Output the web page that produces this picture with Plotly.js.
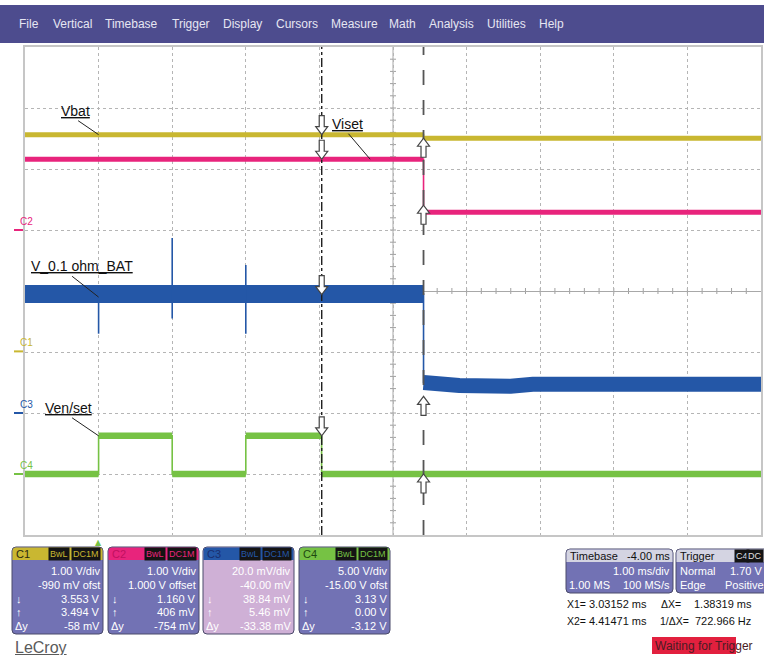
<!DOCTYPE html>
<html><head><meta charset="utf-8">
<script src="https://cdn.plot.ly/plotly-3.0.1.min.js"></script>
<style>html,body{margin:0;padding:0;background:#fff}#chart{width:764px;height:655px}</style>
</head><body><div id="chart"></div>
<script>
// ---------- data ----------
const timeRange = [-1, 9];              // ms, 1.00 ms/div
const cursorX1 = 3.03152, cursorX2 = 4.41471;

const chNames  = ['C1', 'C2', 'C3', 'C4'];
const chScale  = [1.00, 1.00, 20.0, 5.00];      // per div (V, V, mV, V)
const chOffset = [-0.99, 1.000, -40.0, -15.0];  // (V, V, mV, V)
const chColor  = ['#c9b731', '#e8247c', '#2457a7', '#76c244'];

// C1 Vbat (V)
const vbatT = [-1, 4.415, 4.415, 9];
const vbatV = [3.553, 3.553, 3.494, 3.494];
// C2 Viset (V)
const visetT = [-1, 4.415, 4.415, 9];
const visetV = [1.160, 1.160, 0.29, 0.29];
// C3 V_0.1 ohm_BAT (mV)
const vresT = [-1, 4.415, 4.415, 4.6, 4.9, 5.6, 5.9, 9];
const vresV = [39.0, 39.0, 10.0, 9.6, 9.0, 8.8, 9.4, 9.4];
const spikeT  = [0, 1, 2];
const spikeHi = [40, 57.4, 48.5];
const spikeLo = [26, 31, 26];
// C4 Ven/set (V)
const venT = [-1, 0, 0, 1, 1, 2, 2, 3.03, 3.03, 9];
const venV = [0, 0, 3.13, 3.13, 0, 0, 3.13, 3.13, 0, 0];

// cursor readings per channel
const measX1 = [3.553, 1.160, 38.84, 3.13];
const measX2 = [3.494, 0.406, 5.46, 0.00];

// trace labels
const labelText = ['Vbat', 'Viset', 'V_0.1 ohm_BAT', 'Ven/set'];
const labelT    = [0, 3.69, 0, 0];
const labelV    = [3.553, 1.160, 38.0, 3.13];
const labelCh   = [0, 1, 2, 3];

// panel texts
const menuItems = ['File','Vertical','Timebase','Trigger','Display','Cursors','Measure','Math','Analysis','Utilities','Help'];
const menuX     = [18, 52, 104, 171, 222, 275, 330, 388, 428, 486, 538];
const chScaleText  = ['1.00 V/div', '1.00 V/div', '20.0 mV/div', '5.00 V/div'];
const chOffsetText = ['-990 mV ofst', '1.000 V offset', '-40.00 mV', '-15.00 V ofst'];
const chX1Text = ['3.553 V', '1.160 V', '38.84 mV', '3.13 V'];
const chX2Text = ['3.494 V', '406 mV', '5.46 mV', '0.00 V'];
const chDyText = ['-58 mV', '-754 mV', '-33.38 mV', '-3.12 V'];

// ---------- geometry helpers ----------
const L = 25, R = 761, TOP = 47, BOT = 535;
const W = R - L, H = BOT - TOP;
const px = x => (x - L) / W;
const py = y => (BOT - y) / H;
const F = 'Liberation Sans, Arial, sans-serif';
const axName = i => 'y' + (i + 2);

// keep only the level (non-vertical) segments of a stepped trace, within [lo, hi]
function bands(t, v, lo, hi) {
  const x = [], y = [];
  for (let i = 0; i < t.length - 1; i++) {
    if (t[i] === t[i + 1]) { x.push(null); y.push(null); continue; }
    if (t[i] < lo || t[i + 1] > hi) continue;
    x.push(t[i], t[i + 1]); y.push(v[i], v[i + 1]);
  }
  return {x, y};
}

const traces = [];
function addLine(x, y, i, width) {
  traces.push({x: x, y: y, xaxis: 'x', yaxis: axName(i), type: 'scatter', mode: 'lines',
    line: {color: chColor[i], width: width}, hoverinfo: 'skip'});
}
function channel(i, t, v, thick) {
  addLine(t, v, i, 1.6);
  const b = bands(t, v, -1e9, 1e9);
  addLine(b.x, b.y, i, thick);
}
// C4
channel(3, venT, venV, 6.5);
// C3: thin edge, wider noise band before the step, narrower after
addLine(vresT, vresV, 2, 1.6);
{
  const b1 = bands(vresT, vresV, -1e9, cursorX2 + 0.01);
  addLine(b1.x, b1.y, 2, 18);
  const b2 = bands(vresT, vresV, cursorX2 - 0.01, 1e9);
  addLine(b2.x, b2.y, 2, 15);
  const sx = [], sy = [];
  spikeT.forEach((t, k) => { sx.push(t, t, null); sy.push(spikeHi[k], spikeLo[k], null); });
  addLine(sx, sy, 2, 1.6);
}
// C2, C1
channel(1, visetT, visetV, 5);
channel(0, vbatT, vbatV, 5);

// ---------- shapes & annotations ----------
const shapes = [], ann = [];

// center cross with minor ticks (graticule decoration)
shapes.push({type: 'line', xref: 'x', yref: 'paper', x0: 4, x1: 4, y0: 0, y1: 1, layer: 'below',
  line: {color: '#a8a8a8', width: 1}});
for (let k = 1; k < 50; k++) {
  const xv = timeRange[0] + k * 0.2;
  shapes.push({type: 'line', xref: 'x', yref: 'y', ysizemode: 'pixel', yanchor: 0,
    x0: xv, x1: xv, y0: -3, y1: 3, layer: 'below', line: {color: '#a0a0a0', width: 1}});
}
for (let k = 1; k < 40; k++) {
  const yv = -4 + k * 0.2;
  shapes.push({type: 'line', xref: 'x', yref: 'y', xsizemode: 'pixel', xanchor: 4,
    x0: -3, x1: 3, y0: yv, y1: yv, layer: 'below', line: {color: '#a0a0a0', width: 1}});
}

// cursors
shapes.push({type: 'line', xref: 'x', yref: 'paper', x0: cursorX1, x1: cursorX1, y0: 0, y1: 1,
  line: {color: '#1e1e1e', width: 1.4, dash: 'dashdot'}});
shapes.push({type: 'line', xref: 'x', yref: 'paper', x0: cursorX2, x1: cursorX2, y0: 0, y1: 1,
  line: {color: '#555', width: 1.8, dash: 'longdash'}});

// cursor arrows (pixel-sized outline arrows anchored on the readings)
const arrowDown = 'M0,0 L-6,8 L-2.5,8 L-2.5,19 L2.5,19 L2.5,8 L6,8 Z';
const arrowUp   = 'M0,0 L-6,-8 L-2.5,-8 L-2.5,-19 L2.5,-19 L2.5,-8 L6,-8 Z';
for (let i = 0; i < 4; i++) {
  shapes.push({type: 'path', xref: 'x', yref: axName(i), xsizemode: 'pixel', ysizemode: 'pixel',
    xanchor: cursorX1, yanchor: measX1[i], path: arrowDown, fillcolor: '#ffffff',
    line: {color: '#444', width: 1.2}});
  shapes.push({type: 'path', xref: 'x', yref: axName(i), xsizemode: 'pixel', ysizemode: 'pixel',
    xanchor: cursorX2, yanchor: measX2[i], path: arrowUp, fillcolor: '#ffffff',
    line: {color: '#444', width: 1.2}});
}

// channel ground markers
for (let i = 0; i < 4; i++) {
  shapes.push({type: 'line', xref: 'paper', yref: axName(i), x0: px(14), x1: px(23), y0: 0, y1: 0,
    line: {color: chColor[i], width: 2}});
  ann.push({xref: 'paper', yref: axName(i), x: px(18), y: 0, text: chNames[i], showarrow: false,
    yanchor: 'bottom', yshift: 1, font: {family: F, size: 10, color: chColor[i]}});
}

// trigger marker
ann.push({xref: 'x', yref: 'paper', x: 0, y: 0, text: '▲', showarrow: false, yanchor: 'top', yshift: -1,
  font: {family: 'DejaVu Sans', size: 8, color: chColor[3]}});

// trace labels with leader lines
const leadAx = [-22, -23, -28, -28], leadAy = [-15, -27, -22, -19];
const txtDx = [-23, -23, -17, -30], txtDy = [24, 35, 31, 28];
for (let k = 0; k < labelText.length; k++) {
  const yr = axName(labelCh[k]);
  ann.push({xref: 'x', yref: yr, x: labelT[k], y: labelV[k], text: '', showarrow: true, arrowhead: 0,
    arrowwidth: 1, arrowcolor: '#222', ax: leadAx[k], ay: leadAy[k], standoff: 0});
  ann.push({xref: 'x', yref: yr, x: labelT[k], y: labelV[k], text: labelText[k], showarrow: false,
    xshift: txtDx[k], yshift: txtDy[k], font: {family: F, size: 14, color: '#111', lineposition: 'under'}});
}

// ---------- chrome: menu + panels ----------
function T(x, y, text, o) {
  o = o || {};
  const a = {xref: 'paper', yref: 'paper', x: px(x), y: py(y), text: text, showarrow: false,
    xanchor: o.xanchor || 'left', yanchor: 'middle', borderpad: o.borderpad || 0,
    font: Object.assign({family: F, size: 11, color: '#fff'}, o.font || {})};
  if (o.bgcolor) a.bgcolor = o.bgcolor;
  ann.push(a);
}
function rect(x0, y0, x1, y1, fill, line) {
  shapes.push({type: 'rect', xref: 'paper', yref: 'paper', x0: px(x0), x1: px(x1), y0: py(y1), y1: py(y0),
    fillcolor: fill, line: line || {width: 0}, layer: 'above'});
}
function rrect(x0, y0, x1, y1, r, fill, line, topOnly) {
  const P = (x, y) => px(x) + ',' + py(y);
  let p = 'M' + P(x0 + r, y0) + ' L' + P(x1 - r, y0) + ' Q' + P(x1, y0) + ' ' + P(x1, y0 + r);
  if (topOnly) {
    p += ' L' + P(x1, y1) + ' L' + P(x0, y1);
  } else {
    p += ' L' + P(x1, y1 - r) + ' Q' + P(x1, y1) + ' ' + P(x1 - r, y1) + ' L' + P(x0 + r, y1) + ' Q' + P(x0, y1) + ' ' + P(x0, y1 - r);
  }
  p += ' L' + P(x0, y0 + r) + ' Q' + P(x0, y0) + ' ' + P(x0 + r, y0) + ' Z';
  shapes.push({type: 'path', xref: 'paper', yref: 'paper', path: p, fillcolor: fill, line: line || {width: 0}, layer: 'above'});
}

// menu bar
rect(0, 5, 764, 43, '#4d4c8e');
menuItems.forEach((m, k) => T(menuX[k], 24, m, {font: {size: 12, color: '#e6e6f2'}}));

// channel panels
const panelX = [12, 108, 203, 299];
const bodyCol = ['#7272b4', '#7272b4', '#cfb0d6', '#7272b4'];
const hdrTxt = ['#2a2a10', '#c01060', '#1a2f70', '#1e4a10'];
for (let i = 0; i < 4; i++) {
  const x0 = panelX[i], x1 = x0 + 91;
  rrect(x0, 547, x1, 634, 4, bodyCol[i], {color: '#4a4a6a', width: 1});
  rrect(x0 + 0.5, 547.5, x1 - 0.5, 560, 3.5, chColor[i], {width: 0}, true);
  T(x0 + 3, 553.5, chNames[i], {font: {size: 11, color: hdrTxt[i]}});
  T(x0 + 58, 553.5, 'BwL', {xanchor: 'right', bgcolor: '#141414', borderpad: 1, font: {size: 9, color: chColor[i]}});
  T(x0 + 89, 553.5, 'DC1M', {xanchor: 'right', bgcolor: '#141414', borderpad: 1, font: {size: 9, color: chColor[i]}});
  const rows = [chScaleText[i], chOffsetText[i], chX1Text[i], chX2Text[i], chDyText[i]];
  const ry = [571, 584.5, 598.5, 612, 626];
  rows.forEach((r, k) => T(x1 - 2, ry[k], r, {xanchor: 'right'}));
  T(x0 + 3, 598.5, '↓');
  T(x0 + 3, 612, '↑');
  T(x0 + 2, 626, 'Δy');
}
// LeCroy logo
T(14, 647, 'LeCroy', {font: {size: 16, color: '#5a5a5a', lineposition: 'under'}});

// timebase panel
rrect(566, 549, 673, 593, 4, '#7272b4', {color: '#4a4a6a', width: 1});
rrect(566.5, 549.5, 672.5, 562, 3.5, '#d4d4e2', {width: 0}, true);
T(569, 556, 'Timebase', {font: {color: '#111'}});
T(671, 556, '-4.00 ms', {xanchor: 'right', font: {color: '#111'}});
T(671, 571, '1.00 ms/div', {xanchor: 'right'});
T(568, 584.5, '1.00 MS');
T(671, 584.5, '100 MS/s', {xanchor: 'right'});
// trigger panel
rrect(676, 549, 772, 593, 4, '#7272b4', {color: '#4a4a6a', width: 1});
rrect(676.5, 549.5, 771.5, 562, 3.5, '#d4d4e2', {width: 0}, true);
T(679, 556, 'Trigger', {font: {color: '#111'}});
T(750, 556, 'C4', {xanchor: 'right', bgcolor: '#141414', borderpad: 1, font: {size: 9, color: '#e0e0e0'}});
T(764, 556, 'DC', {xanchor: 'right', bgcolor: '#141414', borderpad: 1, font: {size: 9, color: '#e0e0e0'}});
T(679, 571, 'Normal');
T(763, 571, '1.70 V', {xanchor: 'right'});
T(679, 584.5, 'Edge');
T(765, 584.5, 'Positive', {xanchor: 'right'});
// cursor readout
const RO = {font: {size: 11, color: '#111'}};
const RS = {font: {size: 10.5, color: '#111'}};
T(566, 604, 'X1=', RS);
T(588, 604, '3.03152 ms', RO);
T(660, 604, 'ΔX=', RS);
T(693, 604, '1.38319 ms', RO);
T(566, 621, 'X2=', RS);
T(588, 621, '4.41471 ms', RO);
T(690, 621, '1/ΔX=', Object.assign({xanchor: 'right'}, RS));
T(694, 621, '722.966 Hz', RO);
// status
rect(652, 637, 736, 654, '#e2203e');
T(654, 646, 'Waiting for Trigger', {font: {size: 12, color: '#4a1c24'}});

// ---------- axes ----------
function chRange(i) { return [-4 * chScale[i] - chOffset[i], 4 * chScale[i] - chOffset[i]]; }
const gridCommon = {showgrid: true, gridcolor: '#b5b5b5', griddash: 'dot', gridwidth: 1,
  showticklabels: false, ticks: '', showline: true, mirror: true,
  linecolor: '#c6c6c6', linewidth: 2, fixedrange: true};
const layout = {
  width: 764, height: 655,
  margin: {l: L, r: 764 - R, t: TOP, b: 655 - BOT},
  paper_bgcolor: '#ffffff', plot_bgcolor: '#ffffff',
  showlegend: false,
  xaxis: Object.assign({range: timeRange, dtick: 1, tick0: 0, zeroline: false}, gridCommon),
  yaxis: Object.assign({range: [-4, 4], dtick: 1, tick0: 0, zeroline: true, zerolinecolor: '#a8a8a8', zerolinewidth: 1}, gridCommon),
  shapes: shapes,
  annotations: ann
};
for (let i = 0; i < 4; i++) {
  layout['yaxis' + (i + 2)] = {overlaying: 'y', range: chRange(i), visible: false, fixedrange: true};
}

Plotly.newPlot('chart', traces, layout, {staticPlot: true});
</script>
</body></html>
